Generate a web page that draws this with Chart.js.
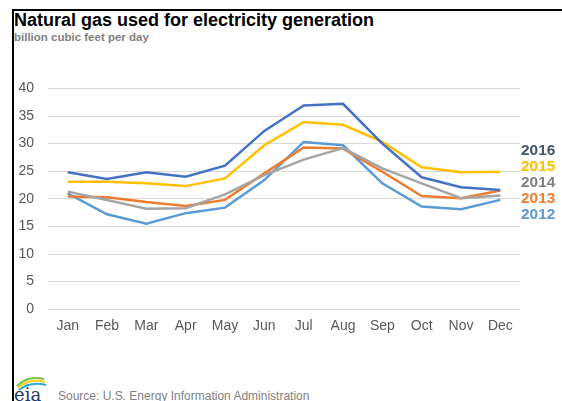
<!DOCTYPE html>
<html>
<head>
<meta charset="utf-8">
<script src="https://cdn.jsdelivr.net/npm/chart.js@4/dist/chart.umd.min.js"></script>
<style>
  html, body { margin: 0; padding: 0; background: #fff; }
  body { width: 562px; height: 401px; position: relative; overflow: hidden; font-family: "Liberation Sans", Arial, sans-serif; }
  .frame-top { position: absolute; left: 12px; top: 9px; width: 550px; height: 2px; background: #000; }
  .frame-left { position: absolute; left: 12px; top: 9px; width: 2px; height: 392px; background: #000; }
  #title { position: absolute; left: 14px; top: 10px; font-weight: bold; font-size: 18px; color: #000; white-space: nowrap; }
  #subtitle { position: absolute; left: 14px; top: 31px; font-weight: bold; font-size: 11.5px; color: #7f7f7f; white-space: nowrap; }
  #chartBox { position: absolute; left: 0; top: 66px; width: 562px; height: 270px; }
  #source { position: absolute; left: 58px; top: 389px; font-size: 12px; color: #7f7f7f; white-space: nowrap; }
  #logo { position: absolute; left: 13px; top: 373px; }
</style>
</head>
<body>
<div class="frame-top"></div>
<div class="frame-left"></div>
<div id="title">Natural gas used for electricity generation</div>
<div id="subtitle">billion cubic feet per day</div>
<div id="chartBox"><canvas id="gasChart"></canvas></div>
<svg id="logo" width="40" height="28" viewBox="0 0 40 28">
  <path d="M4 13 Q15 2 31 6" stroke="#7ac143" stroke-width="2" fill="none"/>
  <path d="M5 15 Q16 5 32 9" stroke="#f7d117" stroke-width="2" fill="none"/>
  <path d="M6 17 Q17 8 33 12" stroke="#29a9e0" stroke-width="2" fill="none"/>
  <text x="1" y="28" font-family="DejaVu Serif, serif" font-size="18" fill="#1f3864">eia</text>
</svg>
<div id="source">Source: U.S. Energy Information Administration</div>
<script>
const months = ["Jan", "Feb", "Mar", "Apr", "May", "Jun", "Jul", "Aug", "Sep", "Oct", "Nov", "Dec"];
const yTicks = [0, 5, 10, 15, 20, 25, 30, 35, 40];

const gas2016 = [24.8, 23.6, 24.8, 24.0, 26.0, 32.3, 36.9, 37.2, 30.0, 23.9, 22.1, 21.6];
const gas2015 = [23.1, 23.1, 22.8, 22.3, 23.7, 29.7, 33.9, 33.4, 30.3, 25.7, 24.8, 24.9];
const gas2014 = [21.3, 19.8, 18.2, 18.3, 20.8, 24.3, 27.1, 29.2, 25.5, 22.8, 20.1, 20.6];
const gas2013 = [20.4, 20.3, 19.4, 18.7, 19.8, 24.6, 29.3, 29.1, 24.9, 20.5, 20.1, 21.5];
const gas2012 = [21.0, 17.2, 15.5, 17.4, 18.4, 23.4, 30.3, 29.7, 22.8, 18.6, 18.1, 19.8];

const years = ["2016", "2015", "2014", "2013", "2012"];
const lineColors  = ["#4472c4", "#ffc000", "#a5a5a5", "#ed7d31", "#5b9bd5"];
const labelColors = ["#44546a", "#ffc000", "#7f7f7f", "#ed7d31", "#5b9bd5"];
const seriesData  = [gas2016, gas2015, gas2014, gas2013, gas2012];

// order drawn: 2012 at back, 2016 on top
const datasets = years.map((y, i) => ({
    label: y,
    data: seriesData[i],
    borderColor: lineColors[i],
    backgroundColor: lineColors[i],
    borderWidth: 2.5,
    pointRadius: 0,
    tension: 0,
    fill: false,
    order: i,
})).reverse();

const yearLabels = {
    id: "yearLabels",
    afterDraw(chart) {
        const ctx = chart.ctx;
        const area = chart.chartArea;
        ctx.save();
        ctx.font = "bold 14px 'Liberation Sans', Arial, sans-serif";
        ctx.textBaseline = "middle";
        years.forEach((y, i) => {
            ctx.save();
            ctx.translate(area.right + 1, 85 + i * 16);
            ctx.scale(1.1, 1);
            ctx.fillStyle = labelColors[i];
            ctx.fillText(y, 0, 0);
            ctx.restore();
        });
        ctx.restore();
    },
};

new Chart(document.getElementById("gasChart"), {
    type: "line",
    data: { labels: months, datasets },
    options: {
        responsive: true,
        maintainAspectRatio: false,
        animation: false,
        layout: { padding: { top: 13, right: 42, bottom: 0, left: 0 } },
        plugins: { legend: { display: false }, tooltip: { enabled: false } },
        scales: {
            x: {
                offset: true,
                grid: { display: false },
                border: { display: false },
                ticks: { color: "#595959", font: { size: 14, family: "'Liberation Sans', Arial, sans-serif" }, padding: 1, maxRotation: 0 },
            },
            y: {
                min: 0,
                max: 40,
                afterBuildTicks: s => { s.ticks = yTicks.map(v => ({ value: v })); },
                afterFit: s => { s.width = 48; },
                grid: { color: "#d9d9d9", lineWidth: 1, drawTicks: false },
                border: { display: false },
                ticks: { color: "#595959", font: { size: 14, family: "'Liberation Sans', Arial, sans-serif" }, padding: 14 },
            },
        },
    },
    plugins: [yearLabels],
});
</script>
</body>
</html>
